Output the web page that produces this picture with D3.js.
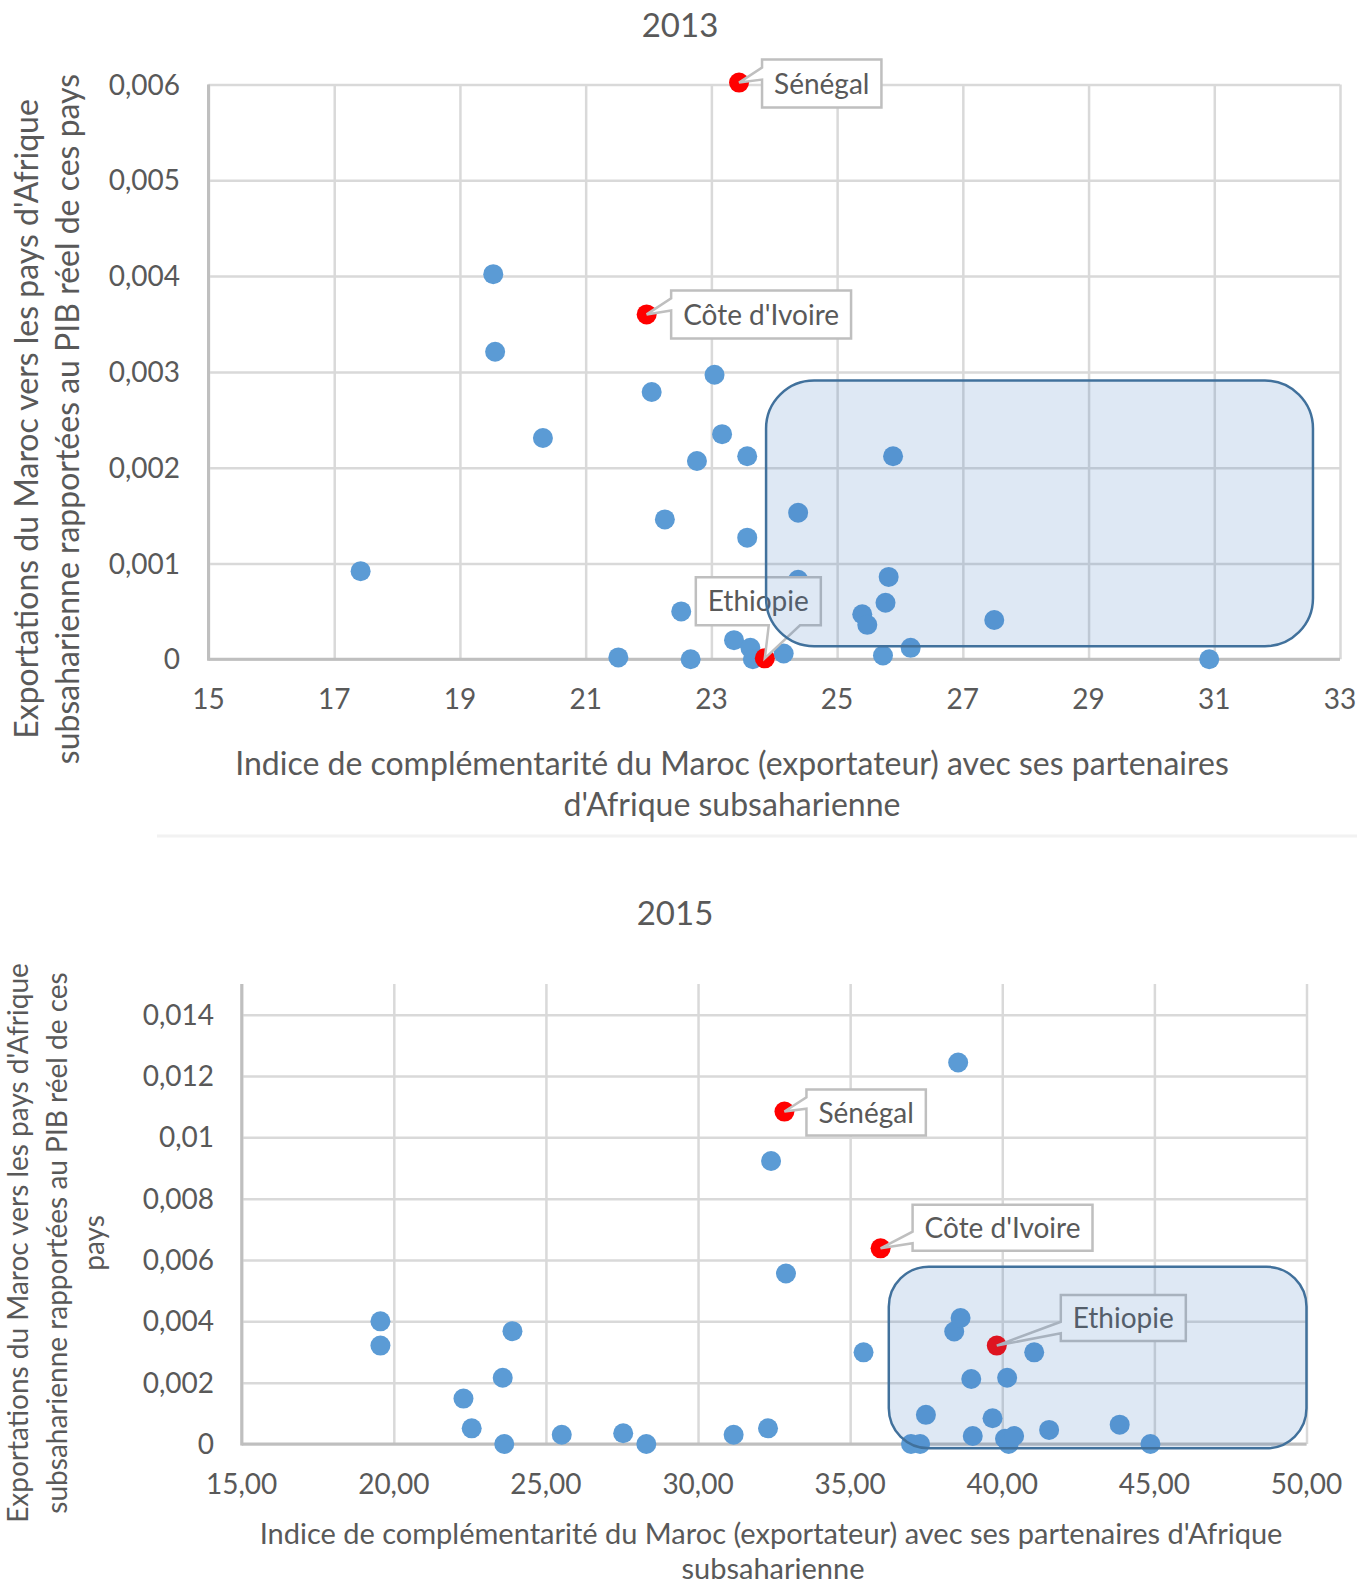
<!DOCTYPE html>
<html>
<head>
<meta charset="utf-8">
<script src="https://cdn.jsdelivr.net/npm/d3@7"></script>
<style>
body { margin: 0; background: #fff; }
svg text { font-family: Lato, "Open Sans", sans-serif; fill: #595959; }
</style>
</head>
<body>
<svg id="chart" width="1357" height="1586"></svg>
<script>

// ---- 2013 ----
var blueX2013 = [17.42,19.53,19.56,20.32,21.52,22.05,22.26,22.52,22.67,22.77,23.05,23.17,23.36,23.57,23.57,23.62,23.66,24.15,24.38,24.38,25.40,25.48,25.73,25.77,25.82,25.89,26.17,27.50,30.92];
var blueY2013 = [0.00092,0.00402,0.00321,0.00231,0.00002,0.00279,0.00146,0.00050,0.00000,0.00207,0.00297,0.00235,0.00020,0.00212,0.00127,0.00012,0.00000,0.00006,0.00153,0.00083,0.00047,0.00036,0.00004,0.00059,0.00086,0.00212,0.00012,0.00041,0.00000];
var redNames = ["Sénégal", "Côte d'Ivoire", "Ethiopie"];
var redX2013 = [23.44, 21.97, 23.85];
var redY2013 = [0.00602, 0.00360, 0.00001];
var xTicks2013 = [15,17,19,21,23,25,27,29,31,33];
var xLabels2013 = ["15","17","19","21","23","25","27","29","31","33"];
var yTicks2013 = [0,0.001,0.002,0.003,0.004,0.005,0.006];
var yLabels2013 = ["0","0,001","0,002","0,003","0,004","0,005","0,006"];
var zone2013 = [23.87, 32.57, 0.000136, 0.00291]; // x0, x1, y0, y1

// ---- 2015 ----
var blueX2015 = [19.56,19.56,22.29,22.56,23.58,23.63,23.90,25.52,27.54,28.30,31.17,32.30,32.40,32.89,35.44,37.00,37.30,37.49,38.42,38.55,38.63,38.98,39.03,39.68,40.09,40.16,40.21,40.39,41.05,41.54,43.86,44.87];
var blueY2015 = [0.00400,0.00321,0.00148,0.00051,0.00216,0.00000,0.00368,0.00030,0.00035,0.00000,0.00030,0.00051,0.00923,0.00556,0.00299,0.00000,0.00000,0.00095,0.00367,0.01244,0.00411,0.00212,0.00026,0.00084,0.00017,0.00216,0.00000,0.00026,0.00299,0.00046,0.00063,0.00000];
var redX2015 = [32.84, 36.00, 39.82];
var redY2015 = [0.01084, 0.00638, 0.00321];
var xTicks2015 = [15,20,25,30,35,40,45,50];
var xLabels2015 = ["15,00","20,00","25,00","30,00","35,00","40,00","45,00","50,00"];
var yTicks2015 = [0,0.002,0.004,0.006,0.008,0.010,0.012,0.014];
var yLabels2015 = ["0","0,002","0,004","0,006","0,008","0,01","0,012","0,014"];
var zone2015 = [36.27, 50, -0.00014, 0.00578];

var svg = d3.select('#chart');

function callout(b, tx, ty) {
	// rectangle with a wedge pointing at (tx,ty), like Excel's wedgeRectCallout
	var w = b.x1 - b.x0, h = b.y1 - b.y0,
		cx = b.x0 + w/2, cy = b.y0 + h/2,
		dx = tx - cx, dy = ty - cy;
	var horizontal = Math.abs(dy) < Math.abs(dx) * h / w;
	var p = 'M' + b.x0 + ',' + b.y0 + 'L' + b.x1 + ',' + b.y0;
	if (horizontal && dx > 0) {
		var a1 = b.y0 + h * (dy > 0 ? 7 : 2) / 12, a2 = b.y0 + h * (dy > 0 ? 10 : 5) / 12;
		p += 'L' + b.x1 + ',' + a1 + 'L' + tx + ',' + ty + 'L' + b.x1 + ',' + a2;
	}
	p += 'L' + b.x1 + ',' + b.y1;
	if (!horizontal && dy > 0) {
		var c2 = b.x0 + w * (dx > 0 ? 10 : 5) / 12, c1 = b.x0 + w * (dx > 0 ? 7 : 2) / 12;
		p += 'L' + c2 + ',' + b.y1 + 'L' + tx + ',' + ty + 'L' + c1 + ',' + b.y1;
	}
	p += 'L' + b.x0 + ',' + b.y1;
	if (horizontal && dx < 0) {
		var e2 = b.y0 + h * (dy > 0 ? 10 : 5) / 12, e1 = b.y0 + h * (dy > 0 ? 7 : 2) / 12;
		p += 'L' + b.x0 + ',' + e2 + 'L' + tx + ',' + ty + 'L' + b.x0 + ',' + e1;
	}
	p += 'Z';
	return p;
}

function drawScatter(c) {
	var g = svg.append('g');
	var x = d3.scaleLinear().domain(c.xDomain).range([c.left, c.right]);
	var y = d3.scaleLinear().domain(c.yDomain).range([c.bottom, c.top]);

	//GRID
	g.append('g')
		.attr('transform', 'translate(0,' + c.bottom + ')')
		.call(d3.axisBottom(x).tickValues(c.xTicks).tickSize(-(c.bottom - c.top)).tickFormat(''))
		.call(function(a){ a.select('.domain').remove(); })
		.selectAll('line').attr('stroke', '#d9d9d9').attr('stroke-width', 2.5);
	g.append('g')
		.attr('transform', 'translate(' + c.left + ',0)')
		.call(d3.axisLeft(y).tickValues(c.yTicks).tickSize(-(c.right - c.left)).tickFormat(''))
		.call(function(a){ a.select('.domain').remove(); })
		.selectAll('line').attr('stroke', '#d9d9d9').attr('stroke-width', 2.5);
	g.append('line')
		.attr('x1', x(c.xDomain[0])).attr('x2', x(c.xDomain[1]))
		.attr('y1', y(0)).attr('y2', y(0))
		.attr('stroke', '#bfbfbf').attr('stroke-width', 3);
	g.append('line')
		.attr('x1', x(c.xDomain[0])).attr('x2', x(c.xDomain[0]))
		.attr('y1', y(0) + 1.5).attr('y2', c.top)
		.attr('stroke', '#bfbfbf').attr('stroke-width', 3);

	//TICK LABELS
	g.selectAll('.xlab').data(c.xTicks).enter().append('text')
		.attr('class', 'xlab')
		.attr('x', function(d){ return x(d); })
		.attr('y', c.xLabelY)
		.attr('dy', '0.36em')
		.attr('text-anchor', 'middle')
		.style('font-size', '28px')
		.text(function(d,i){ return c.xLabels[i]; });
	g.selectAll('.ylab').data(c.yTicks).enter().append('text')
		.attr('class', 'ylab')
		.attr('x', c.yLabelX)
		.attr('y', function(d){ return y(d); })
		.attr('dy', '0.36em')
		.attr('text-anchor', 'end')
		.style('font-size', '28px')
		.text(function(d,i){ return c.yLabels[i]; });

	//TITLES
	g.append('text')
		.attr('x', c.titleX).attr('y', c.titleY).attr('dy', '0.36em')
		.attr('text-anchor', 'middle')
		.style('font-size', '33px')
		.text(c.title);
	c.xTitle.forEach(function(line){
		g.append('text')
			.attr('x', line.x).attr('y', line.y).attr('dy', '0.36em')
			.attr('text-anchor', 'middle')
			.style('font-size', c.xTitleSize + 'px')
			.text(line.t);
	});
	c.yTitle.forEach(function(line){
		g.append('text')
			.attr('transform', 'translate(' + line.x + ',' + c.yTitleY + ') rotate(-90)')
			.attr('dy', '0.36em')
			.attr('text-anchor', 'middle')
			.style('font-size', c.yTitleSize + 'px')
			.text(line.t);
	});

	//DOTS
	g.selectAll('.dot').data(c.blueX).enter().append('circle')
		.attr('class', 'dot')
		.attr('cx', function(d){ return x(d); })
		.attr('cy', function(d,i){ return y(c.blueY[i]); })
		.attr('r', 10)
		.attr('fill', '#5b9bd5');
	g.selectAll('.red').data(c.redX).enter().append('circle')
		.attr('class', 'red')
		.attr('cx', function(d){ return x(d); })
		.attr('cy', function(d,i){ return y(c.redY[i]); })
		.attr('r', 10)
		.attr('fill', '#ff0000');

	//CALLOUTS
	c.redX.forEach(function(d, i){
		var tx = x(d), ty = y(c.redY[i]);
		var lab = g.append('g');
		var path = lab.append('path');
		var txt = lab.append('text')
			.style('font-size', c.labelSize + 'px')
			.text(redNames[i]);
		var tw = txt.node().getComputedTextLength();
		var b = { x0: tx + c.labelOffsets[i][0], y0: ty + c.labelOffsets[i][1] };
		b.x1 = b.x0 + tw + 24;
		b.y1 = b.y0 + c.labelH;
		txt.attr('x', b.x0 + 12).attr('y', (b.y0 + b.y1) / 2).attr('dy', '0.36em');
		path.attr('d', callout(b, tx, ty))
			.attr('fill', '#fff')
			.attr('stroke', '#bfbfbf')
			.attr('stroke-width', 2.5)
			.attr('stroke-linejoin', 'miter');
	});

	//ZONE (translucent, above the marks)
	g.append('rect')
		.attr('x', x(c.zone[0]))
		.attr('y', y(c.zone[3]))
		.attr('width', x(c.zone[1]) - x(c.zone[0]))
		.attr('height', y(c.zone[2]) - y(c.zone[3]))
		.attr('rx', c.zoneR).attr('ry', c.zoneR)
		.attr('fill', '#3c78be').attr('fill-opacity', 0.17)
		.attr('stroke', '#41719c').attr('stroke-width', 2.5);
}

drawScatter({
	title: '2013', titleX: 680, titleY: 25,
	xDomain: [15, 33], yDomain: [0, 0.006],
	left: 208.5, right: 1340, top: 84.5, bottom: 659.3,
	xTicks: xTicks2013, xLabels: xLabels2013, xLabelY: 699,
	yTicks: yTicks2013, yLabels: yLabels2013, yLabelX: 180,
	xTitle: [
		{ t: 'Indice de complémentarité du Maroc (exportateur) avec ses partenaires', x: 732, y: 763 },
		{ t: "d'Afrique subsaharienne", x: 732, y: 804 }
	],
	xTitleSize: 32,
	yTitle: [
		{ t: "Exportations du Maroc vers les pays d'Afrique", x: 26 },
		{ t: 'subsaharienne  rapportées au PIB réel de ces pays', x: 67 }
	],
	yTitleY: 419, yTitleSize: 32,
	blueX: blueX2013, blueY: blueY2013,
	redX: redX2013, redY: redY2013,
	labelOffsets: [[23, -23], [24.5, -24], [-69, -81]],
	labelSize: 28, labelH: 48,
	zone: zone2013, zoneR: 48
});

// faint separator between the two charts
svg.append('rect')
	.attr('x', 157).attr('y', 834.5).attr('width', 1200).attr('height', 3)
	.attr('fill', '#f2f2f2');

drawScatter({
	title: '2015', titleX: 675, titleY: 913,
	xDomain: [15, 50], yDomain: [0, 0.015],
	left: 241.7, right: 1306.5, top: 984, bottom: 1444,
	xTicks: xTicks2015, xLabels: xLabels2015, xLabelY: 1484,
	yTicks: yTicks2015, yLabels: yLabels2015, yLabelX: 214,
	xTitle: [
		{ t: "Indice de complémentarité du Maroc (exportateur) avec ses partenaires d'Afrique", x: 771, y: 1534 },
		{ t: 'subsaharienne', x: 773, y: 1569 }
	],
	xTitleSize: 29,
	yTitle: [
		{ t: "Exportations du Maroc vers les pays d'Afrique", x: 18 },
		{ t: 'subsaharienne  rapportées au PIB réel de ces', x: 57 },
		{ t: 'pays', x: 94 }
	],
	yTitleY: 1243, yTitleSize: 28,
	blueX: blueX2015, blueY: blueY2015,
	redX: redX2015, redY: redY2015,
	labelOffsets: [[22, -22], [32, -43.5], [64, -50.6]],
	labelSize: 28, labelH: 46,
	zone: zone2015, zoneR: 40
});

</script>
</body>
</html>
